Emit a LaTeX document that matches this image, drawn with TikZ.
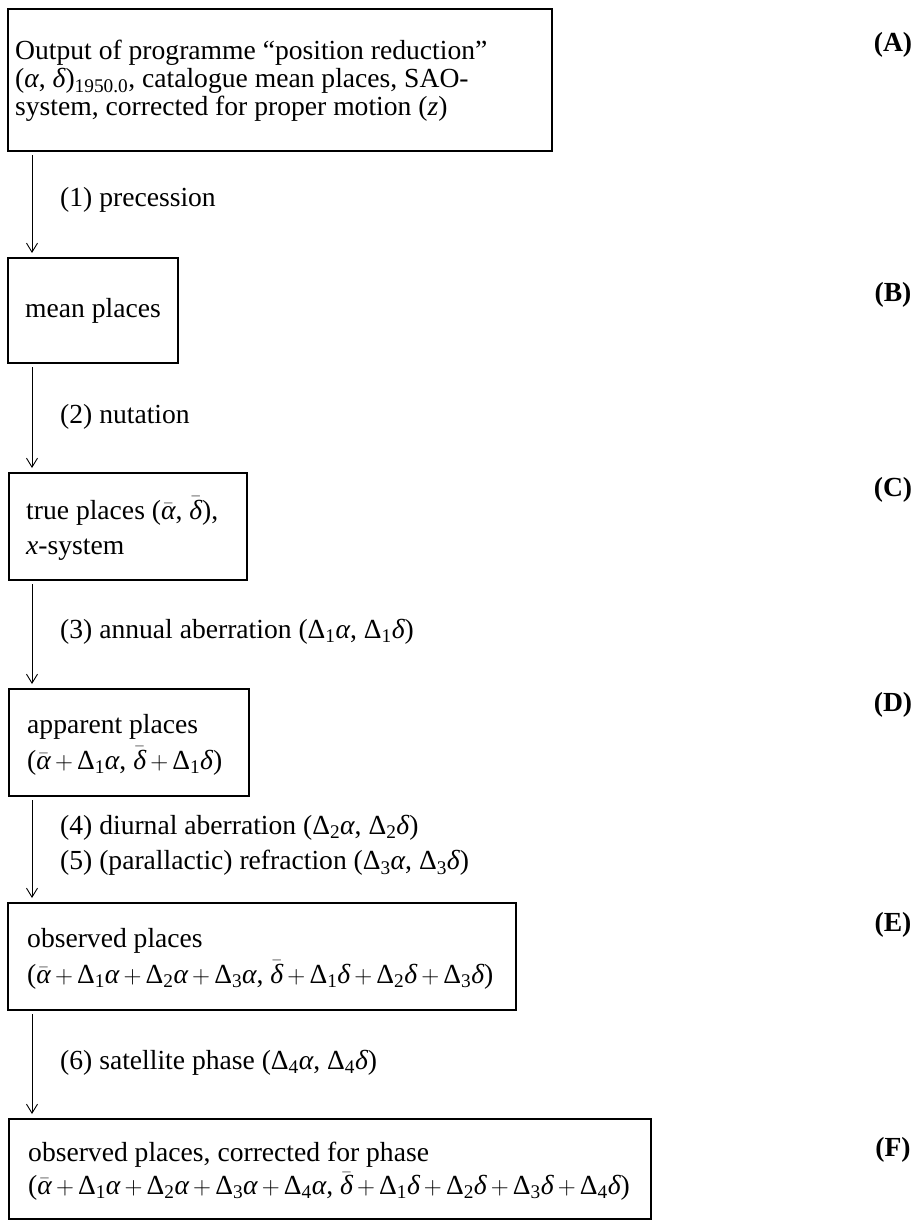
\documentclass[tikz,border=0pt]{standalone}
\usepackage{amsmath}
\usepackage{fontspec}
\setmainfont{Liberation Serif}
\usetikzlibrary{arrows.meta}
\newcommand{\ga}{\textit{α}}
\newcommand{\gd}{\textit{δ}}
\newcommand{\gD}[1]{\textup{Δ}_{\text{#1}}}
\newcommand{\pl}{\mkern-1mu+\mkern-1mu}
\begin{document}
\begin{tikzpicture}[x=1pt,y=-1pt,
  every node/.style={font=\fontsize{27.6}{28}\selectfont},
  box/.style={draw, line width=2.2pt, anchor=north west, inner sep=0pt},
  txt/.style={anchor=west, inner sep=0pt, align=left},
  arr/.style={line width=0.9pt, -{Straight Barb[length=9pt,width=11pt,line width=0.9pt]}, shorten >=4pt, shorten <=3pt},
  lbl/.style={anchor=west, inner sep=0pt},
  tag/.style={anchor=center, inner sep=0pt, font=\fontsize{27.6}{28}\selectfont\bfseries}]
\useasboundingbox (0,0) rectangle (919,1222);
% boxes
\node[box, minimum width=544pt, minimum height=142pt] (A) at (7,8) {};
\node[box, minimum width=170pt, minimum height=105pt] (B) at (7,257) {};
\node[box, minimum width=238pt, minimum height=107pt] (C) at (8,472) {};
\node[box, minimum width=240pt, minimum height=107pt] (D) at (8,688) {};
\node[box, minimum width=508pt, minimum height=107pt] (E) at (7,902) {};
\node[box, minimum width=642pt, minimum height=100pt] (F) at (8,1118) {};
% box texts
\node[txt] (At) at ([xshift=8pt,yshift=-1pt]A.west)
  {Output of programme ``position reduction''\\ ($\ga$, $\gd$)$_{\text{1950.0}}$, catalogue mean places, SAO-\\ system, corrected for proper motion (\textit{z})};
\node[txt] (Bt) at ([xshift=18pt]B.west) {mean places};
\node[txt] (Ct) at ([xshift=18pt,yshift=-2pt]C.west)
  {true places ($\bar{\ga}$, $\bar{\gd}$),\\[7pt] \textit{x}-system};
\node[txt] (Dt) at ([xshift=19pt,yshift=-2pt]D.west)
  {apparent places\\[7pt] ($\bar{\ga}\pl\gD{1}\ga$, $\bar{\gd}\pl\gD{1}\gd$)};
\node[txt] (Et) at ([xshift=20pt,yshift=-2pt]E.west)
  {observed places\\[7pt] ($\bar{\ga}\pl\gD{1}\ga\pl\gD{2}\ga\pl\gD{3}\ga$, $\bar{\gd}\pl\gD{1}\gd\pl\gD{2}\gd\pl\gD{3}\gd$)};
\node[txt] (Ft) at ([xshift=20pt,yshift=-2pt]F.west)
  {observed places, corrected for phase\\[4pt] ($\bar{\ga}\pl\gD{1}\ga\pl\gD{2}\ga\pl\gD{3}\ga\pl\gD{4}\ga$, $\bar{\gd}\pl\gD{1}\gd\pl\gD{2}\gd\pl\gD{3}\gd\pl\gD{4}\gd$)};
% connectors
\draw[arr] ([xshift=25pt]A.south west) -- ([xshift=25pt]B.north west);
\draw[arr] ([xshift=25pt]B.south west) -- ([xshift=24pt]C.north west);
\draw[arr] ([xshift=24pt]C.south west) -- ([xshift=24pt]D.north west);
\draw[arr] ([xshift=24pt]D.south west) -- ([xshift=25pt]E.north west);
\draw[arr] ([xshift=25pt]E.south west) -- ([xshift=24pt]F.north west);
% connector labels
\node[lbl] (l1) at (60,200) {(1) precession};
\node[lbl] (l2) at (60,417) {(2) nutation};
\node[lbl] (l3) at (60,632) {(3) annual aberration ($\gD{1}\ga$, $\gD{1}\gd$)};
\node[lbl] (l4) at (60,828) {(4) diurnal aberration ($\gD{2}\ga$, $\gD{2}\gd$)};
\node[lbl] (l5) at (60,863) {(5) (parallactic) refraction ($\gD{3}\ga$, $\gD{3}\gd$)};
\node[lbl] (l6) at (60,1063) {(6) satellite phase ($\gD{4}\ga$, $\gD{4}\gd$)};
% side tags
\node[tag] (tA) at (893,45) {(A)};
\node[tag] (tB) at (893,295) {(B)};
\node[tag] (tC) at (893,490) {(C)};
\node[tag] (tD) at (893,705) {(D)};
\node[tag] (tE) at (893,925) {(E)};
\node[tag] (tF) at (893,1150) {(F)};
\end{tikzpicture}
\end{document}
